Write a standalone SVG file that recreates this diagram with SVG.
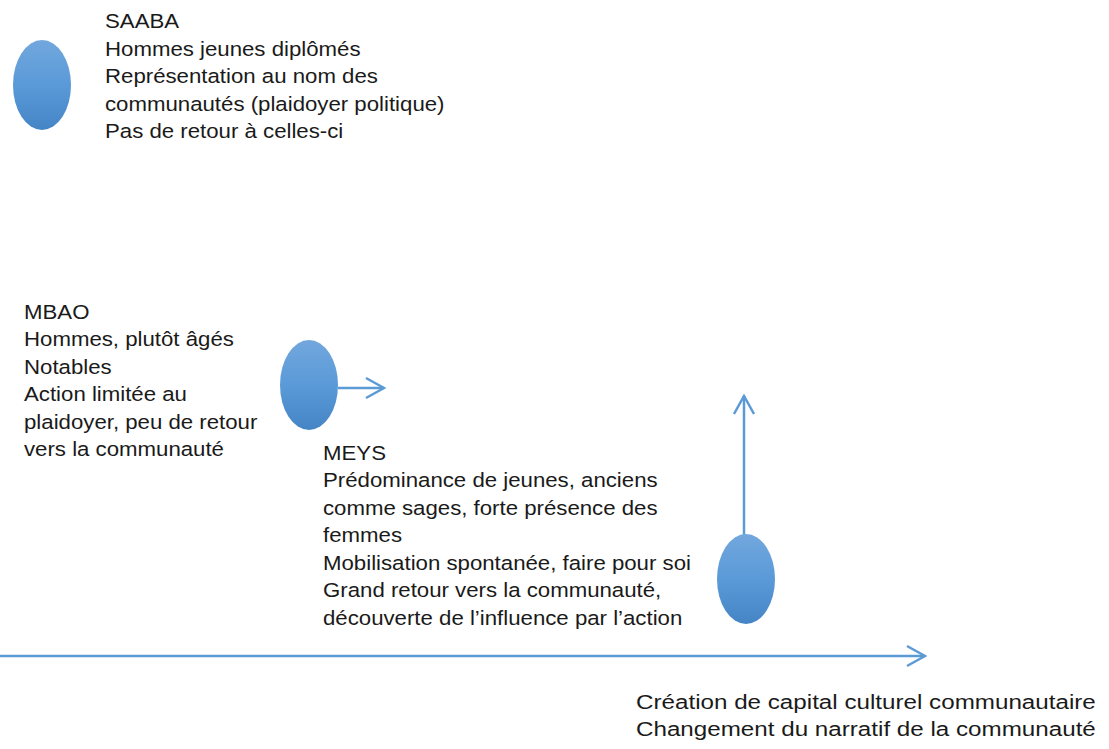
<svg xmlns="http://www.w3.org/2000/svg" width="1109" height="749" viewBox="0 0 1109 749">
<style>
  .t { font-family: "Liberation Sans", Arial, sans-serif; font-size: 19.5px; fill: #1a1a1a; }
  .tb { font-family: "Liberation Sans", Arial, sans-serif; font-size: 20px; fill: #1a1a1a; }
  .conn { stroke: #5b9bd5; stroke-width: 2.5; fill: none; }
  .node { fill: url(#g); }
</style>
<defs>
  <linearGradient id="g" x1="0" y1="0" x2="0" y2="1">
    <stop offset="0" stop-color="#72a7dd"/>
    <stop offset="0.5" stop-color="#5a9ad8"/>
    <stop offset="1" stop-color="#4585c6"/>
  </linearGradient>
  <marker id="arr" markerUnits="userSpaceOnUse" markerWidth="22" markerHeight="24" viewBox="0 0 22 24" refX="20" refY="12" orient="auto">
    <path d="M2,2 L20,12 L2,22" fill="none" stroke="#5b9bd5" stroke-width="2.5"/>
  </marker>
</defs>
<rect width="1109" height="749" fill="#ffffff"/>
<g id="connectors">
  <line class="conn" x1="0" y1="656" x2="925" y2="656" marker-end="url(#arr)"/>
  <line class="conn" x1="338" y1="388" x2="384" y2="388" marker-end="url(#arr)"/>
  <line class="conn" x1="744" y1="541" x2="744" y2="396" marker-end="url(#arr)"/>
</g>
<g id="saaba">
  <ellipse class="node" cx="42" cy="85" rx="29" ry="45"/>
  <g transform="translate(105 0) scale(1.14 1)">
    <text class="t" x="0" y="28">SAABA</text>
    <text class="t" x="0" y="56">Hommes jeunes diplômés</text>
    <text class="t" x="0" y="83">Représentation au nom des</text>
    <text class="t" x="0" y="111">communautés (plaidoyer politique)</text>
    <text class="t" x="0" y="138">Pas de retour à celles-ci</text>
  </g>
</g>
<g id="mbao">
  <ellipse class="node" cx="309" cy="385" rx="29" ry="45"/>
  <g transform="translate(24 0) scale(1.14 1)">
    <text class="t" x="0" y="319">MBAO</text>
    <text class="t" x="0" y="346.5">Hommes, plutôt âgés</text>
    <text class="t" x="0" y="374">Notables</text>
    <text class="t" x="0" y="401.5">Action limitée au</text>
    <text class="t" x="0" y="429">plaidoyer, peu de retour</text>
    <text class="t" x="0" y="456.5">vers la communauté</text>
  </g>
</g>
<g id="meys">
  <ellipse class="node" cx="746" cy="579" rx="29" ry="45"/>
  <g transform="translate(323 0) scale(1.14 1)">
    <text class="t" x="0" y="460">MEYS</text>
    <text class="t" x="0" y="487.5">Prédominance de jeunes, anciens</text>
    <text class="t" x="0" y="515">comme sages, forte présence des</text>
    <text class="t" x="0" y="542.5">femmes</text>
    <text class="t" x="0" y="570">Mobilisation spontanée, faire pour soi</text>
    <text class="t" x="0" y="597.5">Grand retour vers la communauté,</text>
    <text class="t" x="0" y="625">découverte de l’influence par l’action</text>
  </g>
</g>
<g id="result">
  <g transform="translate(636 0) scale(1.21 1)">
    <text class="tb" x="0" y="709">Création de capital culturel communautaire</text>
    <text class="tb" x="0" y="736.5">Changement du narratif de la communauté</text>
  </g>
</g>
</svg>
